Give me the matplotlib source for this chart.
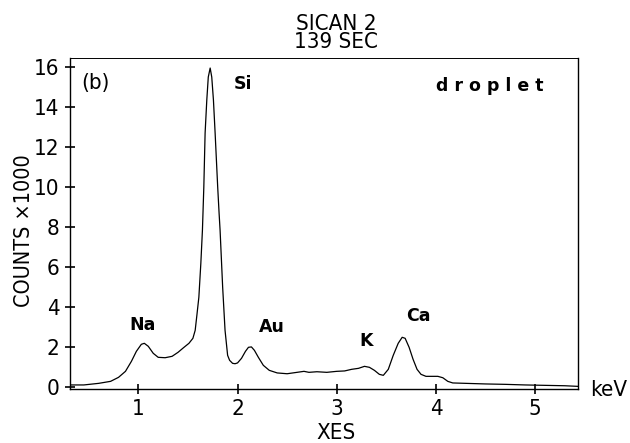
import matplotlib
matplotlib.use("Agg")
import matplotlib.pyplot as plt

# ---- data ----
energy_kev = [0.31, 0.45, 0.60, 0.72, 0.80, 0.87, 0.93, 0.98, 1.03, 1.06, 1.10,
              1.15, 1.20, 1.27, 1.34, 1.40, 1.46, 1.51, 1.55, 1.573, 1.59, 1.61,
              1.63, 1.646, 1.66, 1.673, 1.69, 1.705, 1.724, 1.74, 1.757, 1.774,
              1.80, 1.814, 1.824, 1.85, 1.874, 1.90, 1.92, 1.95, 1.975, 2.00,
              2.04, 2.08, 2.11, 2.14, 2.17, 2.21, 2.26, 2.32, 2.40, 2.50, 2.60,
              2.67, 2.72, 2.80, 2.90, 3.00, 3.08, 3.15, 3.22, 3.28, 3.33, 3.38,
              3.43, 3.47, 3.52, 3.57, 3.62, 3.66, 3.69, 3.73, 3.77, 3.81, 3.85,
              3.90, 3.96, 4.02, 4.07, 4.12, 4.17, 4.30, 4.50, 4.70, 4.90, 5.10,
              5.30, 5.43]
counts_k = [0.12, 0.12, 0.20, 0.30, 0.50, 0.80, 1.30, 1.80, 2.15, 2.20, 2.05,
            1.70, 1.50, 1.48, 1.55, 1.75, 2.00, 2.20, 2.45, 2.85, 3.60, 4.50,
            6.20, 7.85, 10.0, 12.7, 14.35, 15.5, 15.95, 15.5, 14.35, 12.7,
            10.0, 8.70, 7.85, 5.00, 2.85, 1.60, 1.35, 1.20, 1.18, 1.22,
            1.45, 1.80, 2.00, 2.02, 1.85, 1.50, 1.10, 0.85, 0.72, 0.68, 0.75,
            0.80, 0.75, 0.78, 0.75, 0.80, 0.82, 0.90, 0.95, 1.05, 1.00, 0.85,
            0.65, 0.60, 0.90, 1.60, 2.20, 2.50, 2.45, 2.00, 1.40, 0.90, 0.65,
            0.55, 0.55, 0.55, 0.48, 0.30, 0.22, 0.20, 0.17, 0.15, 0.12, 0.10,
            0.08, 0.05]

x_ticks = [1, 2, 3, 4, 5]
y_ticks = [0, 2, 4, 6, 8, 10, 12, 14, 16]
peak_labels = ["Na", "Si", "Au", "K", "Ca"]
peak_pos = [(1.04, 3.1), (1.96, 15.15), (2.35, 3.0), (3.30, 2.3), (3.82, 3.55)]

cond = dict(family="DejaVu Sans", stretch="condensed")

fig = plt.figure(figsize=(6.3, 4.43), dpi=100)
ax = fig.add_axes([0.111, 0.122, 0.806, 0.747])
ax.plot(energy_kev, counts_k, color="black", lw=0.9)
ax.set_xlim(0.31, 5.43)
ax.set_ylim(-0.08, 16.45)
ax.set_xticks(x_ticks)
ax.set_yticks(y_ticks)
ax.set_xticklabels([str(v) for v in x_ticks], fontsize=16, **cond)
ax.set_yticklabels([str(v) for v in y_ticks], fontsize=16, **cond)
ax.tick_params(direction="inout", length=7, width=1.2, pad=4)
for s in ax.spines.values():
    s.set_linewidth(1.0)
ax.spines["top"].set_linewidth(0.7)

for lab, (px, py) in zip(peak_labels, peak_pos):
    ha = "left" if lab == "Si" else "center"
    ax.text(px, py, lab, fontsize=12.5, fontweight="bold", ha=ha, va="center",
            family="DejaVu Sans")
ax.text(0.42, 15.2, "(b)", fontsize=16, ha="left", va="center", **cond)
ax.text(4.54, 15.05, "d r o p l e t", fontsize=12.5, fontweight="bold",
        ha="center", va="center", family="DejaVu Sans")

fig.text(0.937, 0.12, "keV", fontsize=16, ha="left", va="center", **cond)
fig.text(0.533, 0.023, "XES", fontsize=16, ha="center", va="center", **cond)
fig.text(0.038, 0.48, "COUNTS ×1000", fontsize=15.5, rotation=90, ha="center",
         va="center", **cond)
fig.text(0.533, 0.946, "SICAN 2", fontsize=16, ha="center", va="center", **cond)
fig.text(0.533, 0.905, "139 SEC", fontsize=16, ha="center", va="center", **cond)

fig.savefig("out.png", dpi=100)
